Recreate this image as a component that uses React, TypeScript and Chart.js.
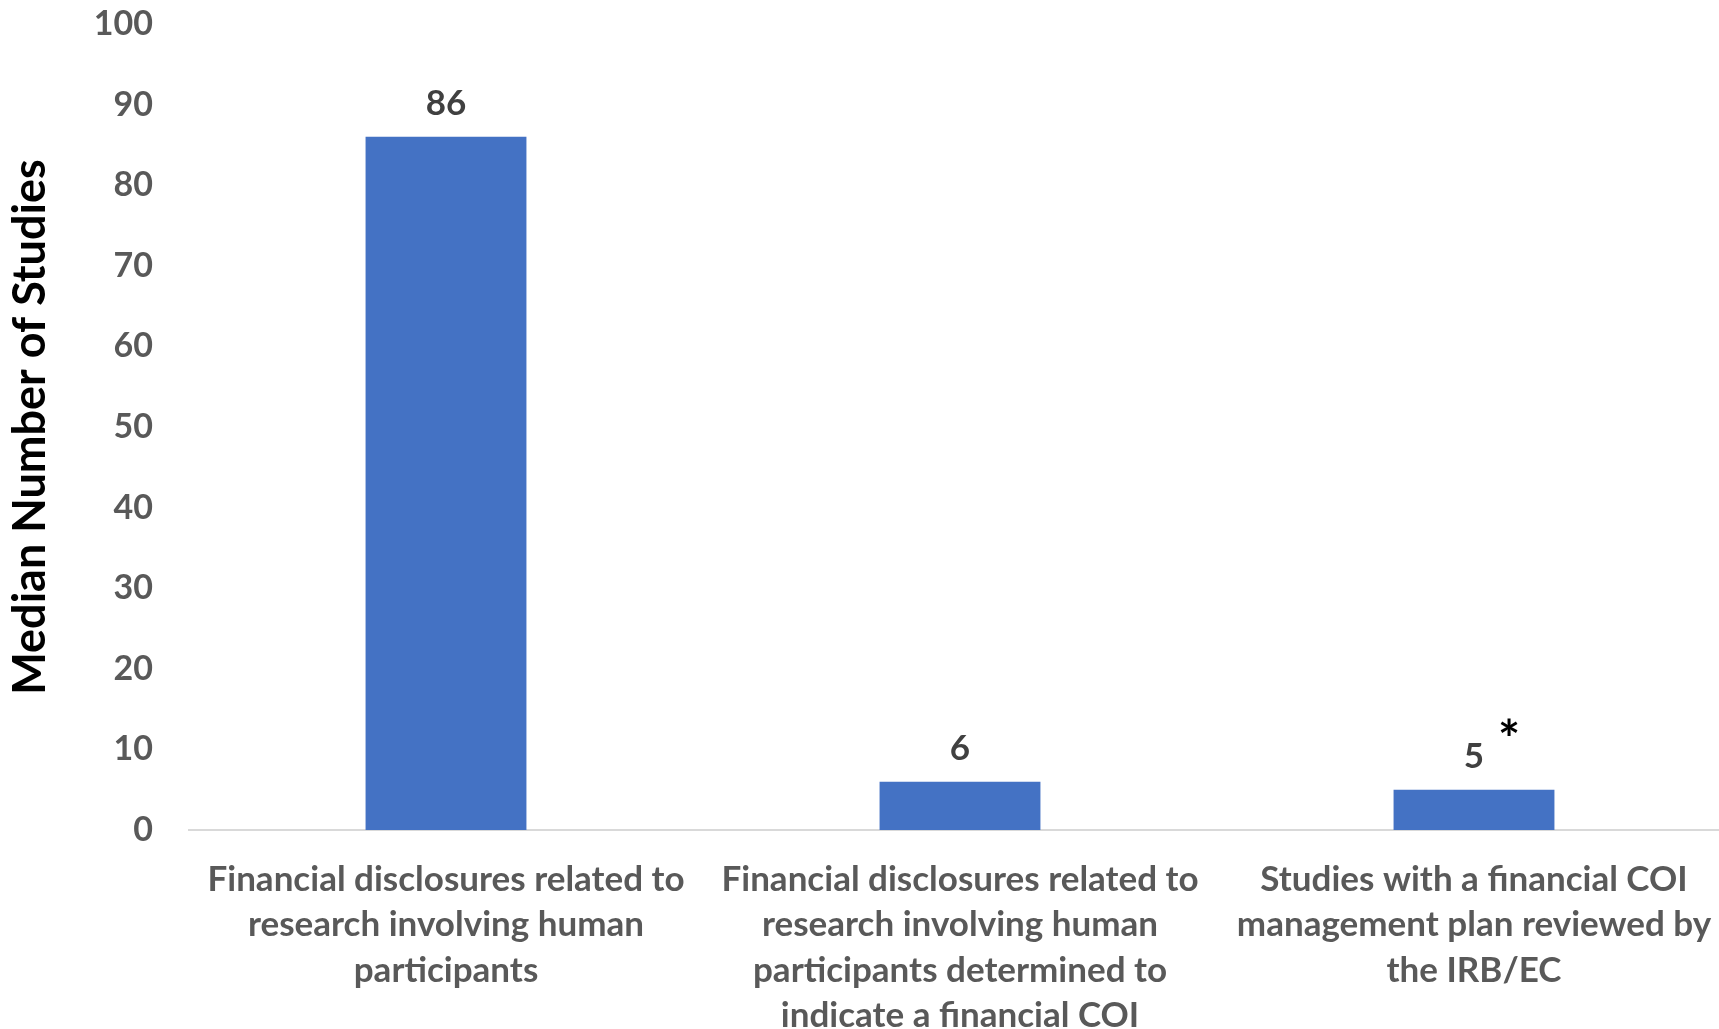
import React, { useEffect, useRef } from "react";
import { Chart, registerables } from "chart.js";

Chart.register(...registerables);

// ---- Data ----
const categories: string[][] = [
  ["Financial disclosures related to", "research involving human", "participants"],
  ["Financial disclosures related to", "research involving human", "participants determined to", "indicate a financial COI"],
  ["Studies with a financial COI", "management plan reviewed by", "the IRB/EC"],
];
const values: number[] = [86, 6, 5];
const valueNotes: string[] = ["", "", "*"];
const yMin = 0;
const yMax = 100;
const yStep = 10;
const yTitle = "Median Number of Studies";

const FONT = "Lato, 'Open Sans', sans-serif";

const barLabelPlugin = {
  id: "barLabels",
  afterDatasetsDraw(chart: any) {
    const ctx = chart.ctx as CanvasRenderingContext2D;
    const meta = chart.getDatasetMeta(0);
    ctx.save();
    meta.data.forEach((bar: any, i: number) => {
      ctx.font = `bold 35px ${FONT}`;
      ctx.fillStyle = "#404040";
      ctx.textAlign = "center";
      ctx.textBaseline = "middle";
      ctx.fillText(String(values[i]), bar.x, bar.y - 33);
      if (valueNotes[i]) {
        ctx.font = `bold 52px ${FONT}`;
        ctx.fillStyle = "#000000";
        ctx.fillText(valueNotes[i], bar.x + 35, bar.y - 48);
      }
    });
    ctx.restore();
  },
};

export default function App() {
  const canvasRef = useRef<HTMLCanvasElement | null>(null);

  useEffect(() => {
    if (!canvasRef.current) return;
    const chart = new Chart(canvasRef.current, {
      type: "bar",
      data: {
        labels: categories,
        datasets: [
          {
            data: values,
            backgroundColor: "#4472C4",
            borderWidth: 0,
            categoryPercentage: 1,
            barPercentage: 0.313,
          },
        ],
      },
      options: {
        responsive: false,
        animation: false,
        devicePixelRatio: 1,
        layout: { padding: { top: 24, left: 0, right: 0, bottom: 0 } },
        plugins: {
          legend: { display: false },
          tooltip: { enabled: false },
        },
        scales: {
          x: {
            grid: { display: false, drawTicks: false },
            border: { display: true, color: "#d9d9d9", width: 2 },
            ticks: {
              autoSkip: false,
              maxRotation: 0,
              minRotation: 0,
              padding: 27,
              color: "#595959",
              font: { family: FONT, size: 35, weight: "bold", lineHeight: 1.295 },
            },
            afterFit(scale: any) {
              scale.height = 199;
              scale.paddingLeft = 0;
              scale.paddingRight = 0;
            },
          },
          y: {
            min: yMin,
            max: yMax,
            grid: { display: false, drawTicks: false },
            border: { display: false },
            ticks: {
              stepSize: yStep,
              padding: 36,
              color: "#595959",
              font: { family: FONT, size: 34, weight: "bold" },
            },
            title: {
              display: true,
              text: yTitle,
              color: "#000000",
              padding: { top: 3, bottom: 0 },
              font: { family: FONT, size: 45, weight: "bold", lineHeight: 1.2 },
            },
            afterFit(scale: any) {
              scale.width = 189;
              scale.paddingTop = 0;
              scale.paddingBottom = 0;
            },
          },
        },
      },
      plugins: [barLabelPlugin],
    });
    return () => chart.destroy();
  }, []);

  return (
    <div
      style={{
        position: "fixed",
        left: 0,
        top: 0,
        width: "100vw",
        height: "100vh",
        overflow: "hidden",
        background: "#ffffff",
      }}
    >
      <canvas ref={canvasRef} width={1731} height={1029} style={{ display: "block" }} />
    </div>
  );
}
